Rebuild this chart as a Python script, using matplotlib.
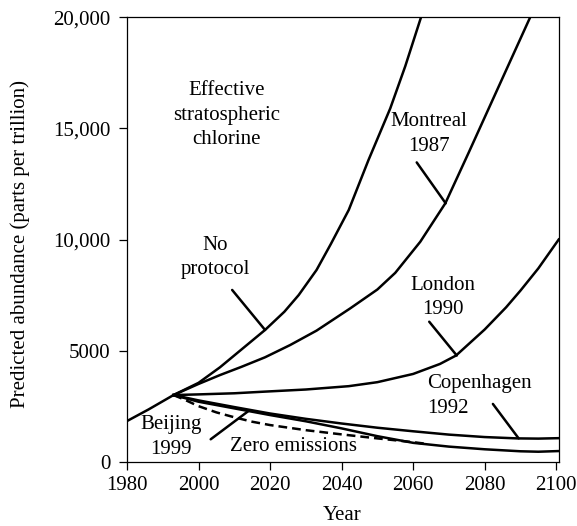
import numpy as np
import matplotlib.pyplot as plt

plt.rcParams['font.family'] = ['Liberation Serif', 'DejaVu Serif']

# common history before the protocols split off
hist_yr = [1980, 1986, 1993]
hist_val = [1830, 2350, 3000]

noprot_yr = [1993, 2000, 2006, 2012, 2018.6, 2024, 2028, 2033, 2037, 2042, 2047.5, 2053.6, 2057.8, 2062, 2064]
noprot_val = [3000, 3550, 4250, 5050, 5930, 6750, 7500, 8630, 9800, 11330, 13570, 15900, 17800, 19900, 20900]

montreal_yr = [1993, 2000, 2006, 2012, 2018.6, 2025.6, 2033, 2042.4, 2050, 2055, 2062, 2069, 2075.5, 2081, 2086.7, 2093, 2095]
montreal_val = [3000, 3500, 3900, 4270, 4700, 5250, 5900, 6900, 7750, 8500, 9900, 11630, 13900, 15850, 17870, 20100, 20800]

london_yr = [1993, 2000, 2010, 2018, 2030, 2042, 2050, 2060, 2067.5, 2072, 2080, 2086, 2090, 2095, 2100.7]
london_val = [3000, 3030, 3080, 3150, 3250, 3400, 3580, 3950, 4400, 4780, 5950, 6950, 7700, 8700, 10000]

copen_yr = [1993, 2000, 2010, 2020, 2030, 2040, 2050, 2060, 2070, 2080, 2089, 2095, 2100.7]
copen_val = [3000, 2760, 2460, 2170, 1930, 1720, 1530, 1370, 1220, 1110, 1050, 1040, 1060]

beijing_yr = [1993, 2000, 2010, 2020, 2030, 2040, 2050, 2060, 2070, 2080, 2090, 2095, 2100.7]
beijing_val = [3000, 2700, 2400, 2100, 1820, 1500, 1150, 850, 680, 560, 470, 450, 480]

zero_yr = [1993, 1996, 2000, 2005, 2010, 2015, 2020, 2030, 2040, 2050, 2060, 2064]
zero_val = [3000, 2800, 2500, 2220, 2000, 1800, 1650, 1420, 1230, 1050, 880, 800]

yticks = [0, 5000, 10000, 15000, 20000]
ytick_labels = ['0', '5000', '10,000', '15,000', '20,000']
xticks = [1980, 2000, 2020, 2040, 2060, 2080, 2100]

fig = plt.figure(figsize=(5.77, 5.26), dpi=100)
ax = fig.add_axes([0.2201, 0.1222, 0.7482, 0.8449])

lw = 1.8
ax.plot(hist_yr, hist_val, color='black', lw=lw, solid_capstyle='butt')
for yr, val in [(noprot_yr, noprot_val), (montreal_yr, montreal_val),
                (london_yr, london_val), (copen_yr, copen_val),
                (beijing_yr, beijing_val)]:
    ax.plot(yr, val, color='black', lw=lw, solid_joinstyle='round')
ax.plot(zero_yr, zero_val, color='black', lw=lw, linestyle=(0, (3.5, 2)))

ax.set_xlim(1980, 2100.7)
ax.set_ylim(0, 20000)
ax.set_xticks(xticks)
ax.set_yticks(yticks)
ax.set_yticklabels(ytick_labels)
ax.tick_params(direction='out', length=6, width=0.9, labelsize=15, pad=6)
ax.tick_params(axis='x', pad=4)
for s in ax.spines.values():
    s.set_linewidth(0.9)

fs = 15
ls = 1.42
ax.text(2007.9, 15600, 'Effective\nstratospheric\nchlorine', ha='center', va='center',
        fontsize=fs, linespacing=ls)
ax.text(2004.6, 9190, 'No\nprotocol', ha='center', va='center', fontsize=fs, linespacing=ls)
ax.text(2064.3, 14750, 'Montreal\n1987', ha='center', va='center', fontsize=fs, linespacing=ls)
ax.text(2068.3, 7390, 'London\n1990', ha='center', va='center', fontsize=fs, linespacing=ls)
ax.text(2063.8, 2970, 'Copenhagen\n1992', ha='left', va='center', fontsize=fs, linespacing=ls)
ax.text(1992.2, 1110, 'Beijing\n1999', ha='center', va='center', fontsize=fs, linespacing=ls)
ax.text(2026.5, 700, 'Zero emissions', ha='center', va='center', fontsize=fs)

leader = dict(arrowstyle='-', lw=1.8, color='black', shrinkA=0, shrinkB=0)
ax.annotate('', xy=(2018.6, 5930), xytext=(2009.4, 7730), arrowprops=leader)
ax.annotate('', xy=(2069.1, 11630), xytext=(2061.0, 13470), arrowprops=leader)
ax.annotate('', xy=(2072.2, 4780), xytext=(2064.5, 6300), arrowprops=leader)
ax.annotate('', xy=(2089.5, 1050), xytext=(2082.3, 2600), arrowprops=leader)
ax.annotate('', xy=(2014.1, 2300), xytext=(2003.4, 1010), arrowprops=leader)

fig.text(20 / 577, (526 - 243.5) / 526, 'Predicted abundance (parts per trillion)',
         rotation=90, ha='center', va='center', fontsize=fs)
fig.text(342.5 / 577, 6.0 / 526, 'Year', ha='center', va='baseline', fontsize=fs)

fig.savefig('out.png', dpi=100)
